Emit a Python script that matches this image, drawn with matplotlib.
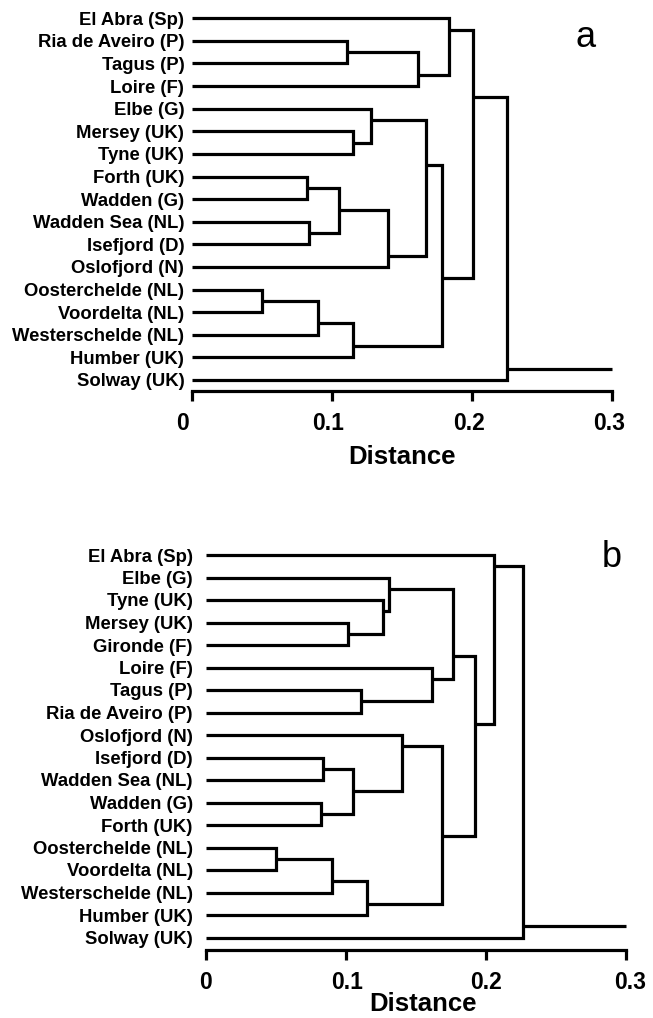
import matplotlib
matplotlib.use("Agg")
import matplotlib.pyplot as plt
from matplotlib.transforms import ScaledTranslation

plt.rcParams['font.family'] = ['Liberation Sans', 'DejaVu Sans']
plt.rcParams['font.weight'] = 'bold'

# ---------------- data ----------------
labels_a = ["El Abra (Sp)", "Ria de Aveiro (P)", "Tagus (P)", "Loire (F)", "Elbe (G)",
            "Mersey (UK)", "Tyne (UK)", "Forth (UK)", "Wadden (G)", "Wadden Sea (NL)",
            "Isefjord (D)", "Oslofjord (N)", "Oosterchelde (NL)", "Voordelta (NL)",
            "Westerschelde (NL)", "Humber (UK)", "Solway (UK)"]
# merges: node n+k joins a_left[k] and a_right[k] at distance a_dist[k]
a_left = [1, 17, 0, 5, 4, 7, 9, 22, 24, 21, 12, 27, 28, 26, 19, 31]
a_right = [2, 3, 18, 6, 20, 8, 10, 23, 11, 25, 13, 14, 15, 29, 30, 16]
a_dist = [0.111, 0.1617, 0.1838, 0.1152, 0.128, 0.0824, 0.0836, 0.1048, 0.1402,
          0.1676, 0.050, 0.0898, 0.1148, 0.1786, 0.2007, 0.2255]

labels_b = ["El Abra (Sp)", "Elbe (G)", "Tyne (UK)", "Mersey (UK)", "Gironde (F)",
            "Loire (F)", "Tagus (P)", "Ria de Aveiro (P)", "Oslofjord (N)", "Isefjord (D)",
            "Wadden Sea (NL)", "Wadden (G)", "Forth (UK)", "Oosterchelde (NL)",
            "Voordelta (NL)", "Westerschelde (NL)", "Humber (UK)", "Solway (UK)"]
b_left = [3, 2, 1, 6, 5, 20, 9, 11, 24, 8, 13, 28, 29, 27, 23, 0, 33]
b_right = [4, 18, 19, 7, 21, 22, 10, 12, 25, 26, 14, 15, 16, 30, 31, 32, 17]
b_dist = [0.1017, 0.1267, 0.131, 0.1107, 0.1612, 0.1767, 0.0833, 0.0819, 0.1048,
          0.1398, 0.050, 0.0902, 0.1148, 0.1688, 0.1921, 0.2057, 0.2262]

tick_vals = [0, 0.1, 0.2, 0.3]
tick_labels = ["0", "0.1", "0.2", "0.3"]
x_max = 0.3
panel_letters = ["a", "b"]
axis_title = "Distance"

# ---------------- layout ----------------
W, H = 653, 1018
fig = plt.figure(figsize=(W / 100, H / 100), dpi=100)
LW = 2.3


def add_axes_px(x0, x1, ytop, ybot):
    return fig.add_axes([x0 / W, 1 - ybot / H, (x1 - x0) / W, (ybot - ytop) / H])


def draw_tree(ax, labels, left, right, dist, xmax):
    n = len(labels)
    height = {i: 0.0 for i in range(n)}
    ypos = {i: float(i) for i in range(n)}
    last = {i: i for i in range(n)}
    for k, (l, r, d) in enumerate(zip(left, right, dist)):
        node = n + k
        ax.plot([height[l], d, d, height[r]], [ypos[l], ypos[l], ypos[r], ypos[r]],
                color='black', lw=LW, solid_joinstyle='miter', solid_capstyle='butt',
                clip_on=False)
        height[node] = d
        last[node] = max(last[l], last[r])
        ypos[node] = last[l] + 0.5
    root = n + len(left) - 1
    ax.plot([height[root], xmax], [ypos[root], ypos[root]], color='black', lw=LW,
            solid_capstyle='butt', clip_on=False)


def style_axes(ax, labels, r0, step, ytop, ybot, ypad, lab_shift):
    ax.set_xlim(0, x_max)
    ax.set_ylim((ybot - r0) / step, (ytop - r0) / step)
    for s in ['top', 'right', 'left']:
        ax.spines[s].set_visible(False)
    ax.spines['bottom'].set_linewidth(LW)
    ax.spines['bottom'].set_capstyle('projecting')
    ax.set_yticks(range(len(labels)))
    ax.set_yticklabels(labels, fontsize=13.3, fontweight='bold')
    ax.tick_params(axis='y', length=0, pad=ypad)
    ax.set_xticks(tick_vals)
    ax.set_xticklabels(tick_labels, fontsize=16.5, fontweight='bold')
    ax.tick_params(axis='x', direction='out', length=7.5, width=LW, pad=7.5)
    for lbl, dx in zip(ax.get_xticklabels(), lab_shift):
        lbl.set_transform(lbl.get_transform() + ScaledTranslation(dx / 100, 0, fig.dpi_scale_trans))


# panel a
ax_a = add_axes_px(192, 611.7, 10, 391)
draw_tree(ax_a, labels_a, a_left, a_right, a_dist, x_max)
style_axes(ax_a, labels_a, 18.3, 22.6, 10, 391, 5.5, [-10, -4, -3, -3])
ax_a.set_xlabel(axis_title, fontsize=18.5, fontweight='bold')
ax_a.xaxis.set_label_coords((402 - 192) / 419.7, -(445 - 391) / 381, transform=ax_a.transAxes)
ax_a.xaxis.label.set_va('top')

# panel b
ax_b = add_axes_px(206, 626, 540, 950)
draw_tree(ax_b, labels_b, b_left, b_right, b_dist, x_max)
style_axes(ax_b, labels_b, 555, 22.5, 540, 950, 9.5, [0, 1, 0, 4])
ax_b.set_xlabel(axis_title, fontsize=18.5, fontweight='bold')
ax_b.xaxis.set_label_coords((423 - 206) / 420, -(992 - 950) / 410, transform=ax_b.transAxes)
ax_b.xaxis.label.set_va('top')

fig.text(586 / W, 1 - 46.7 / H, panel_letters[0], fontsize=26, fontweight='normal',
         ha='center', va='baseline')
fig.text(612 / W, 1 - 566.7 / H, panel_letters[1], fontsize=26, fontweight='normal',
         ha='center', va='baseline')

fig.savefig("out.png", dpi=100)
